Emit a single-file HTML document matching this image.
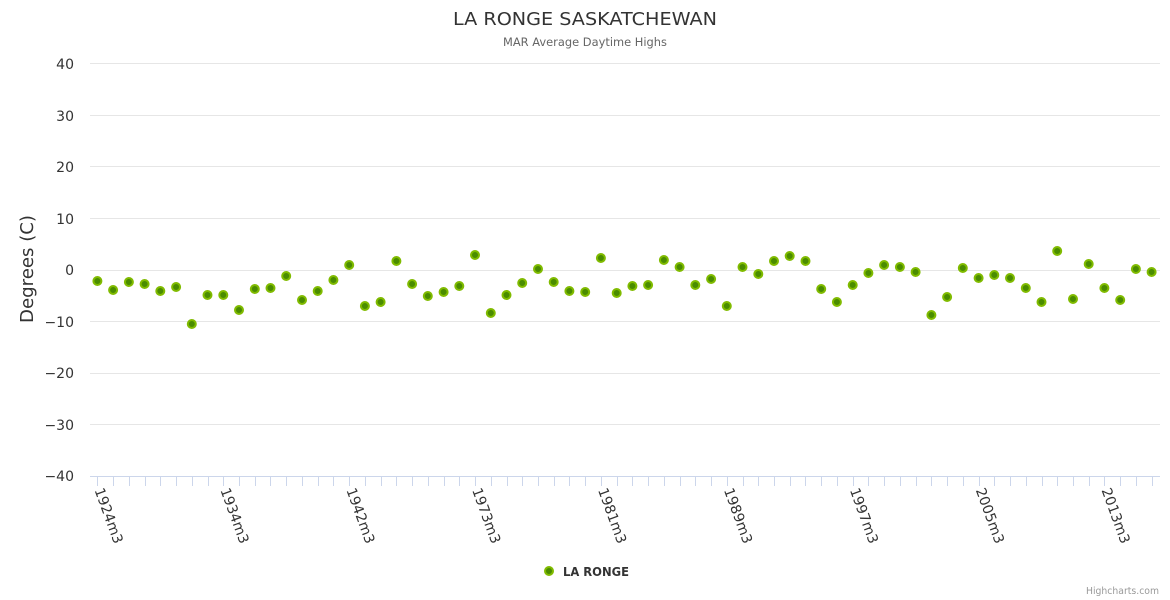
<!DOCTYPE html>
<html>
<head>
<meta charset="utf-8">
<style>
html,body{margin:0;padding:0;background:#fff;}
svg{display:block;font-family:"DejaVu Sans","Liberation Sans",sans-serif;}
</style>
</head>
<body>
<svg id="c" width="1170" height="600" viewBox="0 0 1170 600" xmlns="http://www.w3.org/2000/svg">
<rect width="1170" height="600" fill="#ffffff"/>
<text x="585" y="25" text-anchor="middle" font-size="18" fill="#333333" textLength="264" lengthAdjust="spacingAndGlyphs">LA RONGE SASKATCHEWAN</text>
<text x="585" y="46" text-anchor="middle" font-size="11.5" fill="#666666" textLength="164" lengthAdjust="spacingAndGlyphs">MAR Average Daytime Highs</text>
<g id="grid" stroke="#e6e6e6" stroke-width="1" fill="none">
<path d="M90 63.5H1160"/>
<path d="M90 115.5H1160"/>
<path d="M90 166.5H1160"/>
<path d="M90 218.5H1160"/>
<path d="M90 270.5H1160"/>
<path d="M90 321.5H1160"/>
<path d="M90 373.5H1160"/>
<path d="M90 424.5H1160"/>
</g>
<g font-size="14" fill="#333333" text-anchor="end">
<text x="74" y="69">40</text>
<text x="74" y="121">30</text>
<text x="74" y="172">20</text>
<text x="74" y="224">10</text>
<text x="74" y="275">0</text>
<text x="74" y="327">−10</text>
<text x="74" y="378">−20</text>
<text x="74" y="430">−30</text>
<text x="74" y="481">−40</text>
</g>
<text transform="translate(33,269) rotate(-90)" text-anchor="middle" font-size="18" fill="#333333" textLength="108" lengthAdjust="spacingAndGlyphs">Degrees (C)</text>
<path d="M90 476.5H1160" stroke="#ccd6eb" stroke-width="1"/>
<g id="ticks" stroke="#ccd6eb" stroke-width="1"></g>
<g id="xl" font-size="14" fill="#333333"></g>
<g id="pts" fill="#4a8c00" stroke="#80bb00" stroke-width="2"></g>
<circle cx="549" cy="571" r="4" fill="#4a8c00" stroke="#80bb00" stroke-width="2"/>
<text x="563" y="576" font-size="12" font-weight="bold" fill="#333333" textLength="66" lengthAdjust="spacingAndGlyphs">LA RONGE</text>
<text x="1159" y="594" text-anchor="end" font-size="9.5" fill="#999999" textLength="73" lengthAdjust="spacingAndGlyphs">Highcharts.com</text>
</svg>
<script>
(function(){
var ys=[280.7,289.7,281.7,283.7,290.7,286.7,323.7,294.7,294.7,309.7,288.7,287.7,275.7,299.7,290.7,279.7,264.7,305.7,301.7,260.7,283.7,295.7,291.7,285.7,254.7,312.7,294.7,282.7,268.7,281.7,290.7,291.7,257.7,292.7,285.7,284.7,259.7,266.7,284.7,278.7,305.7,266.7,273.7,260.7,255.7,260.7,288.7,301.7,284.7,272.7,264.7,266.7,271.7,314.7,296.7,267.7,277.7,274.7,277.7,287.7,301.7,250.7,298.7,263.7,287.7,299.7,268.7,271.7];
var labels={0:"1924m3",8:"1934m3",16:"1942m3",24:"1973m3",32:"1981m3",40:"1989m3",48:"1997m3",56:"2005m3",64:"2013m3"};
var ns="http://www.w3.org/2000/svg";
var pts=document.getElementById("pts"),ticks=document.getElementById("ticks"),xl=document.getElementById("xl");
for(var i=0;i<68;i++){
  var x=97.4+15.735*i;
  var tx=Math.round(x)+0.5;
  var t=document.createElementNS(ns,"path");
  t.setAttribute("d","M"+tx+" 476V486");
  ticks.appendChild(t);
  var c=document.createElementNS(ns,"circle");
  c.setAttribute("cx",x.toFixed(1));
  c.setAttribute("cy",(ys[i]+0.3).toFixed(1));
  c.setAttribute("r","4");
  pts.appendChild(c);
  if(labels[i]){
    var tt=document.createElementNS(ns,"text");
    var ax=x-3, ay=490;
    tt.setAttribute("transform","translate("+ax.toFixed(1)+","+ay+") rotate(70)");
    tt.textContent=labels[i];
    xl.appendChild(tt);
  }
}
})();
</script>
</body>
</html>
